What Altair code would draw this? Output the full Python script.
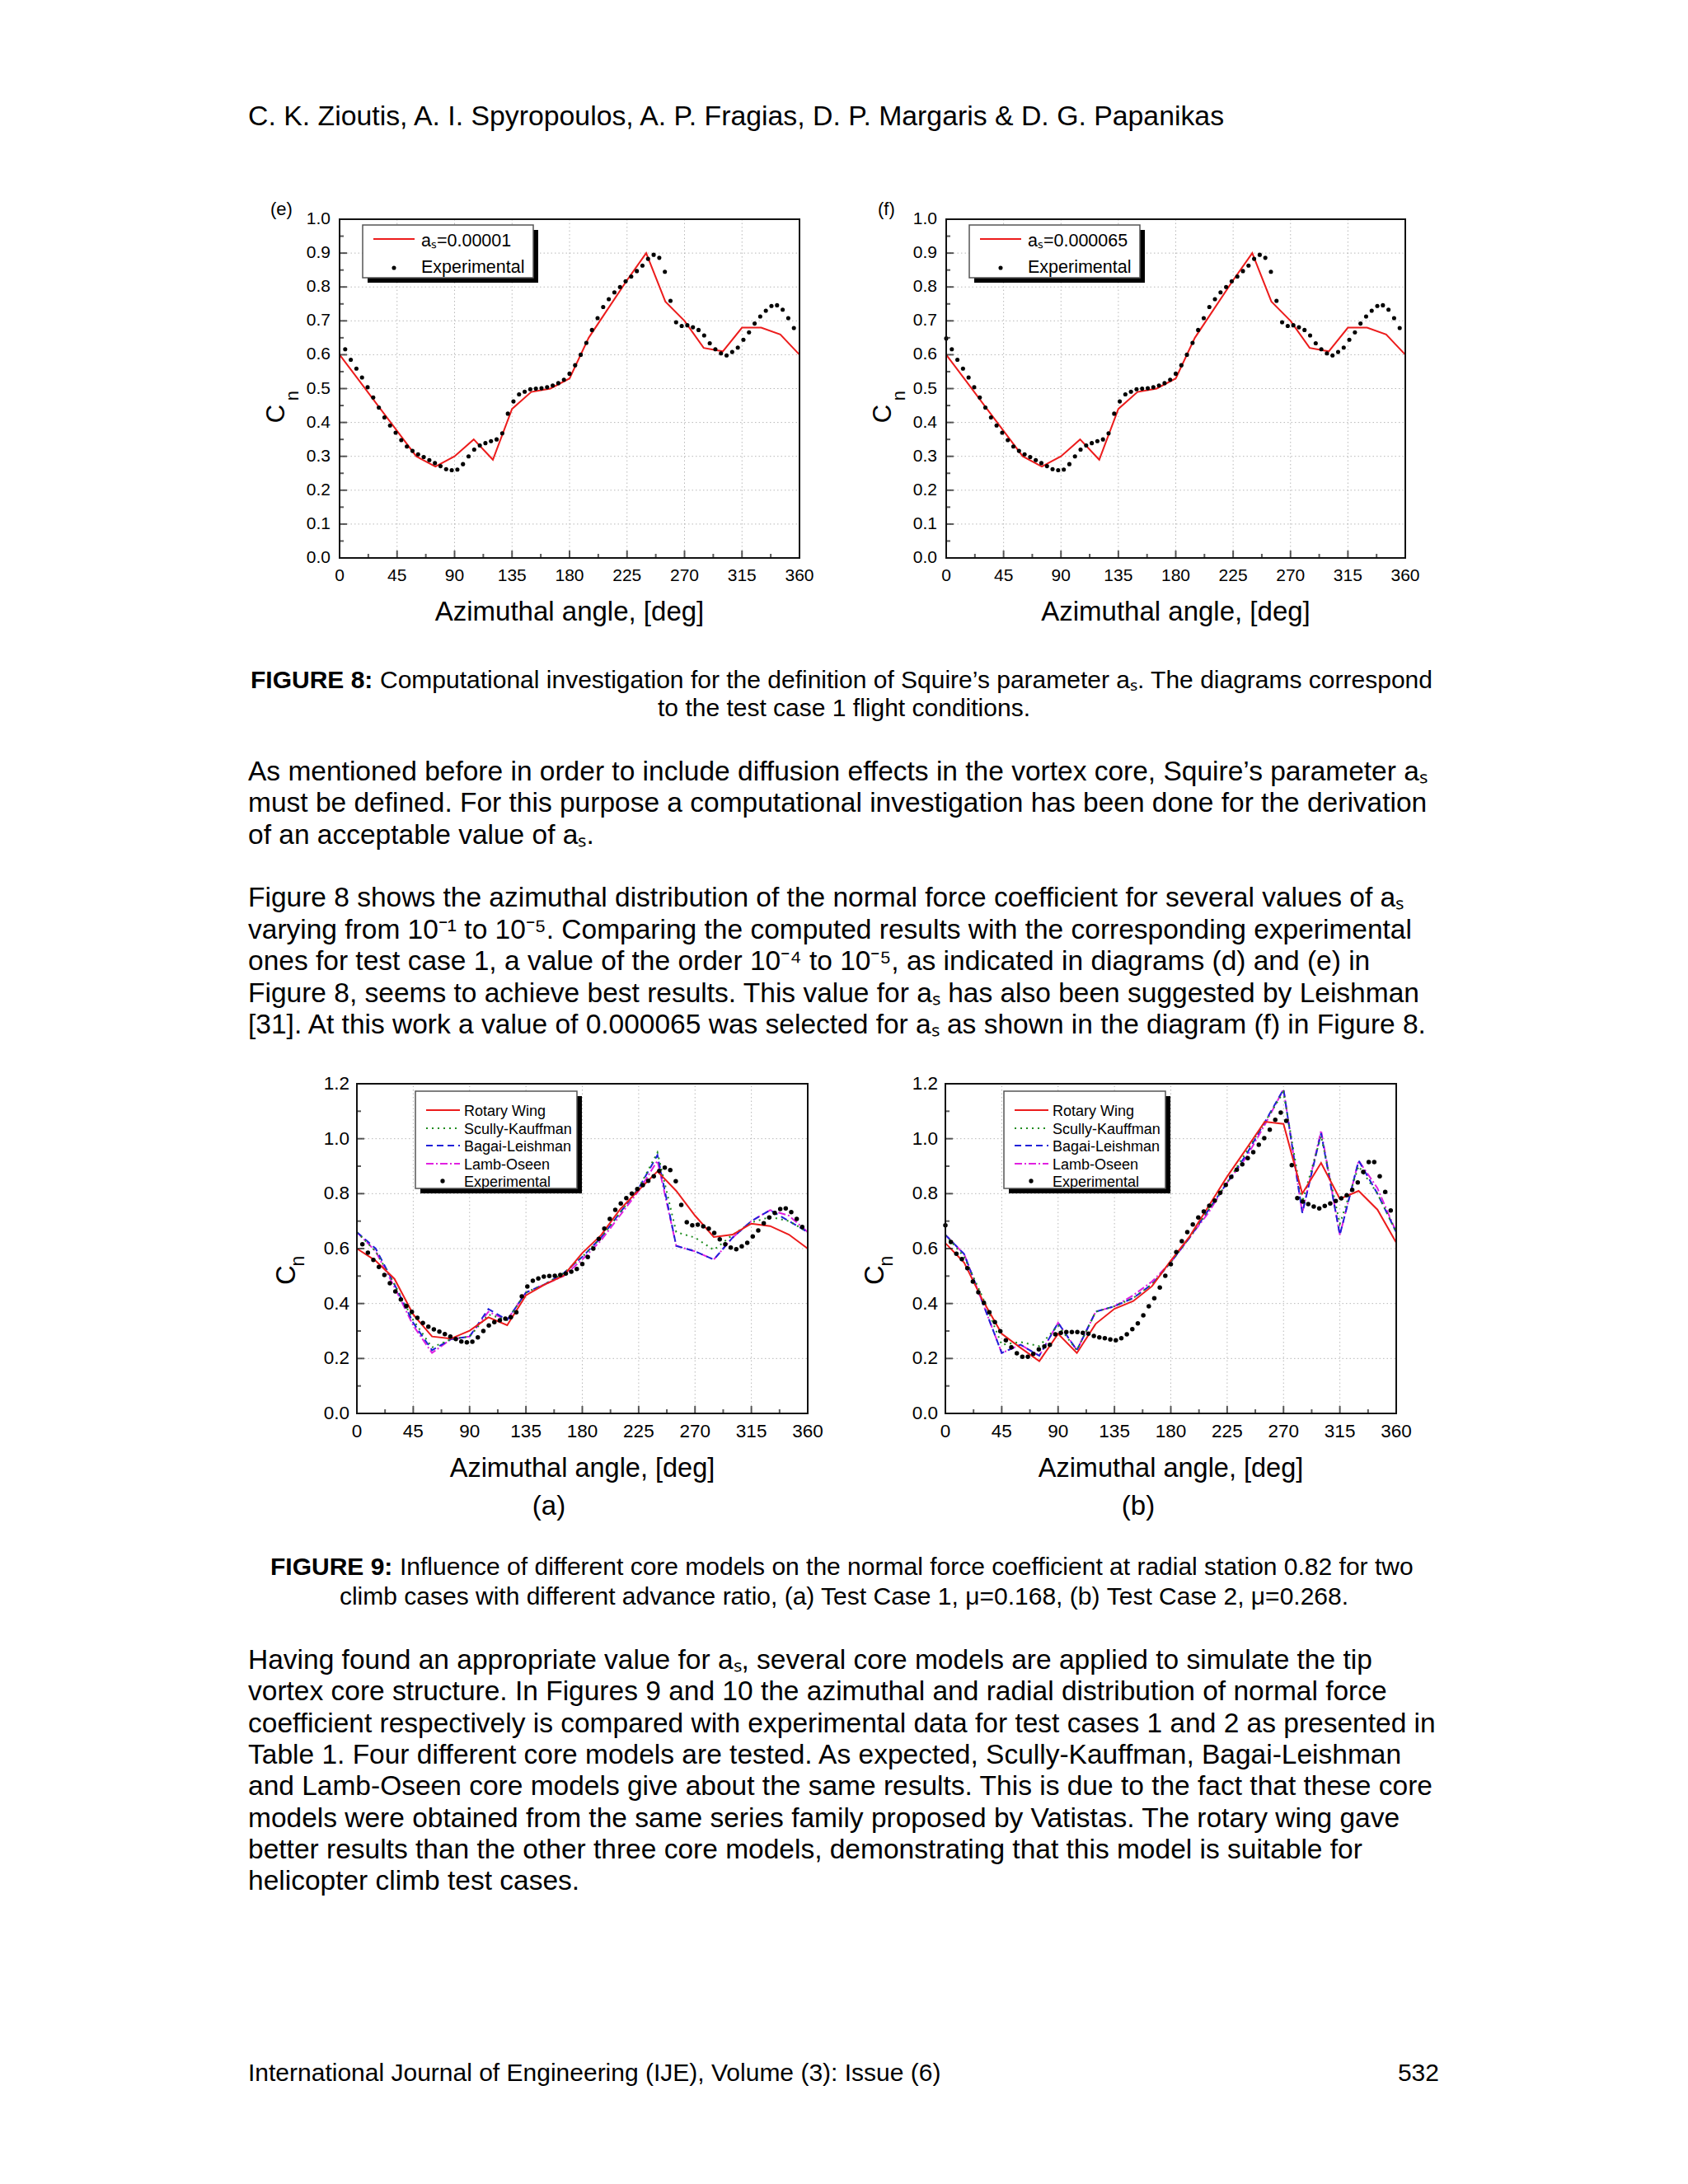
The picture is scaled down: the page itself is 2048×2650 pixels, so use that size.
import altair as alt
import pandas as pd

FONT = "Liberation Sans"
W, H = 2032, 2634
OFF = 8

# ---------------- data ----------------
ANG15 = [0, 15, 30, 45, 60, 75, 90, 105, 120, 135, 150, 165, 180,
         195, 210, 225, 240, 255, 270, 285, 300, 315, 330, 345, 360]

EXP_ANG = [4.39, 8.78, 13.17, 17.56, 21.95, 26.34, 30.73, 35.12, 39.51, 43.90,
           48.29, 52.68, 57.07, 61.46, 65.85, 70.24, 74.63, 79.02, 83.41, 87.80,
           92.20, 96.59, 100.98, 105.37, 109.76, 114.15, 118.54, 122.93, 127.32, 131.71,
           136.10, 140.49, 144.88, 149.27, 153.66, 158.05, 162.44, 166.83, 171.22, 175.61,
           180.00, 184.39, 188.78, 193.17, 197.56, 201.95, 206.34, 210.73, 215.12, 219.51,
           223.90, 228.29, 232.68, 237.07, 241.46, 245.85, 250.24, 254.63, 259.02, 263.41,
           267.80, 272.20, 276.59, 280.98, 285.37, 289.76, 294.15, 298.54, 302.93, 307.32,
           311.71, 316.10, 320.49, 324.88, 329.27, 333.66, 338.05, 342.44, 346.83, 351.22,
           355.61]

# Test case 1 experimental Cn
EXP1 = [0.616, 0.585, 0.559, 0.533, 0.504, 0.474, 0.444, 0.415, 0.391, 0.370,
        0.348, 0.329, 0.316, 0.306, 0.298, 0.289, 0.280, 0.271, 0.262, 0.259,
        0.261, 0.277, 0.300, 0.320, 0.332, 0.339, 0.345, 0.350, 0.368, 0.426,
        0.462, 0.483, 0.491, 0.498, 0.500, 0.501, 0.504, 0.509, 0.516, 0.526,
        0.544, 0.569, 0.600, 0.635, 0.673, 0.708, 0.741, 0.764, 0.784, 0.800,
        0.817, 0.831, 0.847, 0.863, 0.883, 0.895, 0.886, 0.845, 0.759, 0.696,
        0.685, 0.687, 0.681, 0.673, 0.657, 0.634, 0.616, 0.604, 0.598, 0.608,
        0.621, 0.644, 0.666, 0.692, 0.713, 0.730, 0.744, 0.746, 0.733, 0.708,
        0.679]
EXP1_AT_ZERO = 0.648

# Test case 2 experimental Cn
EXP2 = [0.624, 0.581, 0.562, 0.529, 0.480, 0.441, 0.403, 0.368, 0.332, 0.299,
        0.266, 0.241, 0.219, 0.206, 0.206, 0.217, 0.233, 0.244, 0.250, 0.288,
        0.293, 0.296, 0.296, 0.296, 0.293, 0.290, 0.282, 0.277, 0.274, 0.269,
        0.266, 0.274, 0.288, 0.307, 0.328, 0.357, 0.390, 0.419, 0.458, 0.501,
        0.543, 0.587, 0.627, 0.660, 0.688, 0.713, 0.735, 0.756, 0.775, 0.803,
        0.832, 0.861, 0.887, 0.907, 0.929, 0.951, 0.978, 1.002, 1.033, 1.069,
        1.095, 1.065, 0.904, 0.784, 0.771, 0.762, 0.753, 0.746, 0.755, 0.764,
        0.773, 0.783, 0.794, 0.814, 0.841, 0.879, 0.915, 0.915, 0.863, 0.806,
        0.739]
EXP2_AT_ZERO = 0.685

# Figure 8 (e) and (f) computed
RW_E = [0.60, 0.525, 0.45, 0.375, 0.30, 0.27, 0.30, 0.35, 0.29, 0.44, 0.49, 0.50, 0.53,
        0.65, 0.735, 0.82, 0.90, 0.757, 0.70, 0.62, 0.61, 0.68, 0.68, 0.66, 0.60]
RW_F = [0.60, 0.525, 0.45, 0.375, 0.30, 0.27, 0.30, 0.35, 0.29, 0.44, 0.49, 0.50, 0.53,
        0.65, 0.735, 0.82, 0.90, 0.757, 0.70, 0.62, 0.61, 0.68, 0.68, 0.66, 0.60]

# Figure 9 (a)
RW_A = [0.60, 0.556, 0.49, 0.36, 0.28, 0.272, 0.301, 0.35, 0.321, 0.43, 0.469, 0.501, 0.584,
        0.649, 0.742, 0.813, 0.881, 0.81, 0.72, 0.642, 0.651, 0.691, 0.682, 0.651, 0.60]
SK_A = [0.66, 0.59, 0.47, 0.34, 0.24, 0.27, 0.28, 0.36, 0.34, 0.44, 0.47, 0.51, 0.57,
        0.64, 0.73, 0.82, 0.95, 0.66, 0.64, 0.595, 0.65, 0.695, 0.715, 0.70, 0.66]
BL_A = [0.66, 0.60, 0.47, 0.33, 0.23, 0.27, 0.28, 0.38, 0.34, 0.44, 0.47, 0.51, 0.57,
        0.64, 0.73, 0.82, 0.94, 0.61, 0.59, 0.56, 0.64, 0.70, 0.74, 0.70, 0.66]
LO_A = [0.66, 0.59, 0.46, 0.32, 0.22, 0.27, 0.28, 0.37, 0.34, 0.44, 0.47, 0.50, 0.56,
        0.63, 0.72, 0.81, 0.92, 0.61, 0.59, 0.56, 0.64, 0.70, 0.74, 0.72, 0.66]

# Figure 9 (b)
RW_B = [0.62, 0.549, 0.41, 0.29, 0.239, 0.19, 0.29, 0.22, 0.326, 0.381, 0.409, 0.463, 0.556,
        0.644, 0.753, 0.862, 0.961, 1.062, 1.054, 0.80, 0.912, 0.781, 0.81, 0.742, 0.622]
SK_B = [0.65, 0.57, 0.42, 0.25, 0.26, 0.245, 0.32, 0.23, 0.37, 0.39, 0.42, 0.47, 0.55,
        0.64, 0.74, 0.84, 0.95, 1.06, 1.17, 0.77, 1.01, 0.69, 0.90, 0.80, 0.66]
BL_B = [0.65, 0.58, 0.40, 0.22, 0.25, 0.21, 0.33, 0.23, 0.37, 0.39, 0.42, 0.47, 0.55,
        0.64, 0.74, 0.84, 0.94, 1.06, 1.18, 0.73, 1.02, 0.65, 0.92, 0.80, 0.66]
LO_B = [0.65, 0.58, 0.40, 0.22, 0.25, 0.21, 0.33, 0.23, 0.37, 0.39, 0.43, 0.48, 0.55,
        0.64, 0.73, 0.84, 0.93, 1.05, 1.18, 0.73, 1.03, 0.65, 0.92, 0.82, 0.66]

# axis values
X_LABELS = [0, 45, 90, 135, 180, 225, 270, 315, 360]
X_GRID = [45, 90, 135, 180, 225, 270, 315]
X_MINOR = [22.5, 67.5, 112.5, 157.5, 202.5, 247.5, 292.5, 337.5]
Y8_LABELS = [0.0, 0.1, 0.2, 0.3, 0.4, 0.5, 0.6, 0.7, 0.8, 0.9, 1.0]
Y8_GRID = [0.1, 0.2, 0.3, 0.4, 0.5, 0.6, 0.7, 0.8, 0.9]
Y8_MINOR = [0.05, 0.15, 0.25, 0.35, 0.45, 0.55, 0.65, 0.75, 0.85, 0.95]
Y9_LABELS = [0.0, 0.2, 0.4, 0.6, 0.8, 1.0, 1.2]
Y9_GRID = [0.2, 0.4, 0.6, 0.8, 1.0]
Y9_MINOR = [0.1, 0.3, 0.5, 0.7, 0.9, 1.1]

# text
HEADER = "C. K. Zioutis, A. I. Spyropoulos, A. P. Fragias, D. P. Margaris & D. G. Papanikas"
X_TITLE = "Azimuthal angle, [deg]"
Y_TITLE_MAIN = "C"
Y_TITLE_SUB = "n"
CAP8_BOLD = "FIGURE 8:"
CAP8_L1 = "Computational investigation for the definition of Squire’s parameter aₛ. The diagrams correspond"
CAP8_L2 = "to the test case 1 flight conditions."
PARA1 = [
    "As mentioned before in order to include diffusion effects in the vortex core, Squire’s parameter aₛ",
    "must be defined. For this purpose a computational investigation has been done for the derivation",
    "of an acceptable value of aₛ.",
]
PARA2 = [
    "Figure 8 shows the azimuthal distribution of the normal force coefficient for several values of aₛ",
    "varying from 10⁻¹ to 10⁻⁵. Comparing the computed results with the corresponding experimental",
    "ones for test case 1, a value of the order 10⁻⁴ to 10⁻⁵, as indicated in diagrams (d) and (e) in",
    "Figure 8, seems to achieve best results. This value for aₛ has also been suggested by Leishman",
    "[31]. At this work a value of 0.000065 was selected for aₛ as shown in the diagram (f) in Figure 8.",
]
CAP9_BOLD = "FIGURE 9:"
CAP9_L1 = "Influence of different core models on the normal force coefficient at radial station 0.82 for two"
CAP9_L2 = "climb cases with different advance ratio, (a) Test Case 1, μ=0.168, (b) Test Case 2, μ=0.268."
PARA3 = [
    "Having found an appropriate value for aₛ, several core models are applied to simulate the tip",
    "vortex core structure. In Figures 9 and 10 the azimuthal and radial distribution of normal force",
    "coefficient respectively is compared with experimental data for test cases 1 and 2 as presented in",
    "Table 1. Four different core models are tested. As expected, Scully-Kauffman, Bagai-Leishman",
    "and Lamb-Oseen core models give about the same results. This is due to the fact that these core",
    "models were obtained from the same series family proposed by Vatistas. The rotary wing gave",
    "better results than the other three core models, demonstrating that this model is suitable for",
    "helicopter climb test cases.",
]
FOOTER_L = "International Journal of Engineering (IJE), Volume (3): Issue (6)"
FOOTER_R = "532"

RED = "#ec1c1c"
GREEN = "#1e8c1e"
BLUE = "#2020d8"
MAGENTA = "#e020e0"

ONE = pd.DataFrame({"z": [0]})


def P(v):
    return v - OFF


def txt(s, x, y, size, align="left", weight="normal", angle=0, baseline="alphabetic"):
    kw = dict(text=s, font=FONT, fontSize=size, align=align, baseline=baseline,
              fontWeight=weight, color="black")
    if angle:
        kw["angle"] = angle
    return alt.Chart(ONE).mark_text(**kw).encode(x=alt.value(P(x)), y=alt.value(P(y)))


def box(x1, x2, y1, y2, fill, stroke=None):
    kw = dict(fill=fill)
    if stroke:
        kw.update(stroke=stroke, strokeWidth=1.5)
    return alt.Chart(ONE).mark_rect(**kw).encode(
        x=alt.value(P(x1)), x2=alt.value(P(x2)), y=alt.value(P(y1)), y2=alt.value(P(y2)))


def leg_line(x1, x2, y, color, dash):
    kw = dict(color=color, strokeWidth=2)
    if dash:
        kw["strokeDash"] = dash
    return alt.Chart(ONE).mark_rule(**kw).encode(
        x=alt.value(P(x1)), x2=alt.value(P(x2)), y=alt.value(P(y)))


def leg_dot(x, y, size):
    return alt.Chart(ONE).mark_circle(size=size, color="black", opacity=1).encode(
        x=alt.value(P(x)), y=alt.value(P(y)))


def panel(x0, x1, ytop, ybot, ymax, ylabels, ygrid, yminor,
          labsize, ypad, xpad, series, exp_a, exp_v, dot):
    X = alt.Scale(domain=[0, 360], range=[P(x0), P(x1)], nice=False, zero=False)
    Y = alt.Scale(domain=[0, ymax], range=[P(ybot), P(ytop)], nice=False, zero=False)

    def xd(v):
        return alt.XDatum(v, scale=X, axis=None)

    def yd(v):
        return alt.YDatum(v, scale=Y, axis=None)

    layers = []
    # dotted grid
    layers.append(
        alt.Chart(pd.DataFrame({"g": X_GRID})).mark_rule(
            color="#b8b8b8", strokeWidth=1, strokeDash=[1.5, 3]
        ).encode(x=alt.X("g:Q", scale=X, axis=None), y=yd(0), y2=alt.datum(ymax)))
    layers.append(
        alt.Chart(pd.DataFrame({"g": ygrid})).mark_rule(
            color="#b8b8b8", strokeWidth=1, strokeDash=[1.5, 3]
        ).encode(y=alt.Y("g:Q", scale=Y, axis=None), x=xd(0), x2=alt.datum(360)))

    # computed curves
    for vals, color, dash in series:
        kw = dict(color=color, strokeWidth=2)
        if dash:
            kw["strokeDash"] = dash
        layers.append(
            alt.Chart(pd.DataFrame({"a": ANG15, "c": vals})).mark_line(**kw).encode(
                x=alt.X("a:Q", scale=X, axis=None), y=alt.Y("c:Q", scale=Y, axis=None)))

    # experimental points
    layers.append(
        alt.Chart(pd.DataFrame({"a": exp_a, "c": exp_v})).mark_circle(
            size=dot, color="black", opacity=1
        ).encode(x=alt.X("a:Q", scale=X, axis=None), y=alt.Y("c:Q", scale=Y, axis=None)))

    # inward ticks
    layers.append(
        alt.Chart(pd.DataFrame({"t": X_GRID})).mark_tick(
            orient="vertical", size=9, thickness=2, yOffset=-4.5, color="#111"
        ).encode(x=alt.X("t:Q", scale=X, axis=None), y=yd(0)))
    layers.append(
        alt.Chart(pd.DataFrame({"t": X_MINOR})).mark_tick(
            orient="vertical", size=5, thickness=2, yOffset=-2.5, color="#111"
        ).encode(x=alt.X("t:Q", scale=X, axis=None), y=yd(0)))
    layers.append(
        alt.Chart(pd.DataFrame({"t": ygrid})).mark_tick(
            orient="horizontal", size=9, thickness=2, xOffset=4.5, color="#111"
        ).encode(y=alt.Y("t:Q", scale=Y, axis=None), x=xd(0)))
    layers.append(
        alt.Chart(pd.DataFrame({"t": yminor})).mark_tick(
            orient="horizontal", size=5, thickness=2, xOffset=2.5, color="#111"
        ).encode(y=alt.Y("t:Q", scale=Y, axis=None), x=xd(0)))

    # tick labels (positioned by the scales)
    layers.append(
        alt.Chart(pd.DataFrame({"v": X_LABELS})).mark_text(
            font=FONT, fontSize=labsize, color="black", align="center",
            baseline="alphabetic", dy=xpad
        ).encode(x=alt.X("v:Q", scale=X, axis=None), y=yd(0),
                 text=alt.Text("v:Q", format="d")))
    layers.append(
        alt.Chart(pd.DataFrame({"v": ylabels})).mark_text(
            font=FONT, fontSize=labsize, color="black", align="right",
            baseline="middle", dx=-ypad
        ).encode(y=alt.Y("v:Q", scale=Y, axis=None), x=xd(0),
                 text=alt.Text("v:Q", format=".1f")))

    # frame
    layers.append(
        alt.Chart(ONE).mark_rect(fill="transparent", stroke="#111", strokeWidth=2).encode(
            x=xd(0), x2=alt.datum(360), y=yd(0), y2=alt.datum(ymax)))
    return alt.layer(*layers)


def legend8(x0, ytop, label):
    return [
        box(x0 + 34, x0 + 241, ytop + 13, ytop + 77, "black"),
        box(x0 + 28, x0 + 235, ytop + 7, ytop + 71, "white", "#555"),
        leg_line(x0 + 41, x0 + 91, ytop + 24, RED, None),
        txt(label, x0 + 99, ytop + 33, 21.5),
        leg_dot(x0 + 66, ytop + 59, 26),
        txt("Experimental", x0 + 99, ytop + 65, 21.5),
    ]


def legend9(x0, ytop):
    rows = [32, 54, 75, 97, 118]
    items = [("Rotary Wing", RED, None), ("Scully-Kauffman", GREEN, [2, 5]),
             ("Bagai-Leishman", BLUE, [8, 5]), ("Lamb-Oseen", MAGENTA, [9, 3, 2, 3])]
    out = [
        box(x0 + 77, x0 + 273, ytop + 15, ytop + 133, "black"),
        box(x0 + 71, x0 + 267, ytop + 9, ytop + 127, "white", "#555"),
    ]
    for (lab, col, dash), r in zip(items, rows[:4]):
        out.append(leg_line(x0 + 84, x0 + 125, ytop + r, col, dash))
        out.append(txt(lab, x0 + 130, ytop + r + 6.5, 18))
    out.append(leg_dot(x0 + 104, ytop + rows[4], 28))
    out.append(txt("Experimental", x0 + 130, ytop + rows[4] + 6.5, 18))
    return out


def titles(x0, x1, ybot, xt_base, xt_size, c_dx, c_y, c_size, n_dx, n_y, n_size):
    return [
        txt(X_TITLE, (x0 + x1) / 2, ybot + xt_base, xt_size, align="center"),
        txt(Y_TITLE_MAIN, x0 + c_dx, c_y, c_size, align="center", angle=270),
        txt(Y_TITLE_SUB, x0 + n_dx, n_y, n_size, align="center", angle=270),
    ]


# -------- panels --------
E = dict(x0=412, x1=970, ytop=266, ybot=677)
F = dict(x0=1148, x1=1705, ytop=266, ybot=677)
A = dict(x0=433, x1=980, ytop=1315, ybot=1715)
B = dict(x0=1147, x1=1694, ytop=1315, ybot=1715)

pe = panel(E["x0"], E["x1"], E["ytop"], E["ybot"], 1.0, Y8_LABELS, Y8_GRID, Y8_MINOR,
           21, 11, 28, [(RW_E, RED, None)], EXP_ANG, EXP1, 26)
pf = panel(F["x0"], F["x1"], F["ytop"], F["ybot"], 1.0, Y8_LABELS, Y8_GRID, Y8_MINOR,
           21, 11, 28, [(RW_F, RED, None)], [0.0] + EXP_ANG, [EXP1_AT_ZERO] + EXP1, 26)
pa = panel(A["x0"], A["x1"], A["ytop"], A["ybot"], 1.2, Y9_LABELS, Y9_GRID, Y9_MINOR,
           22.5, 9, 29,
           [(LO_A, MAGENTA, [9, 3, 2, 3]), (BL_A, BLUE, [8, 5]), (SK_A, GREEN, [2, 5]),
            (RW_A, RED, None)], EXP_ANG, EXP1, 30)
pb = panel(B["x0"], B["x1"], B["ytop"], B["ybot"], 1.2, Y9_LABELS, Y9_GRID, Y9_MINOR,
           22.5, 9, 29,
           [(LO_B, MAGENTA, [9, 3, 2, 3]), (BL_B, BLUE, [8, 5]), (SK_B, GREEN, [2, 5]),
            (RW_B, RED, None)], [0.0] + EXP_ANG, [EXP2_AT_ZERO] + EXP2, 30)

texts = []
texts.append(txt(HEADER, 301, 152, 33.8))
texts.append(txt("(e)", 328, 261, 22))
texts.append(txt("(f)", 1065, 261, 22))
texts += titles(E["x0"], E["x1"], E["ybot"], 76, 33, -67, 502, 31, -50, 480, 22)
texts += titles(F["x0"], F["x1"], F["ybot"], 76, 33, -67, 502, 31, -50, 480, 22)
texts += legend8(E["x0"], E["ytop"], "aₛ=0.00001")
texts += legend8(F["x0"], F["ytop"], "aₛ=0.000065")
texts.append(txt(CAP8_BOLD, 304, 835, 30, weight="bold"))
texts.append(txt(CAP8_L1, 461, 835, 30))
texts.append(txt(CAP8_L2, 1024, 869, 30, align="center"))
for i, line in enumerate(PARA1):
    texts.append(txt(line, 301, 947 + i * 38.4, 33.5))
for i, line in enumerate(PARA2):
    texts.append(txt(line, 301, 1100 + i * 38.6, 33.5))
texts += titles(A["x0"], A["x1"], A["ybot"], 77, 32.5, -75, 1547, 33, -64, 1530, 23)
texts += titles(B["x0"], B["x1"], B["ybot"], 77, 32.5, -75, 1547, 33, -64, 1530, 23)
texts += legend9(A["x0"], A["ytop"])
texts += legend9(B["x0"], B["ytop"])
texts.append(txt("(a)", 666, 1838, 33, align="center"))
texts.append(txt("(b)", 1381, 1838, 33, align="center"))
texts.append(txt(CAP9_BOLD, 328, 1911, 30, weight="bold"))
texts.append(txt(CAP9_L1, 485, 1911, 30))
texts.append(txt(CAP9_L2, 1024, 1947, 30, align="center"))
for i, line in enumerate(PARA3):
    texts.append(txt(line, 301, 2025 + i * 38.3, 33.5))
texts.append(txt(FOOTER_L, 301, 2525, 30))
texts.append(txt(FOOTER_R, 1746, 2525, 30, align="right"))

chart = alt.layer(pe, pf, pa, pb, *texts).resolve_scale(
    x="independent", y="independent"
).properties(
    width=W, height=H, autosize=alt.AutoSizeParams(type="none"), padding=0
).configure_view(stroke=None)

chart.save("out.html", embed_options={"renderer": "svg", "actions": False})
